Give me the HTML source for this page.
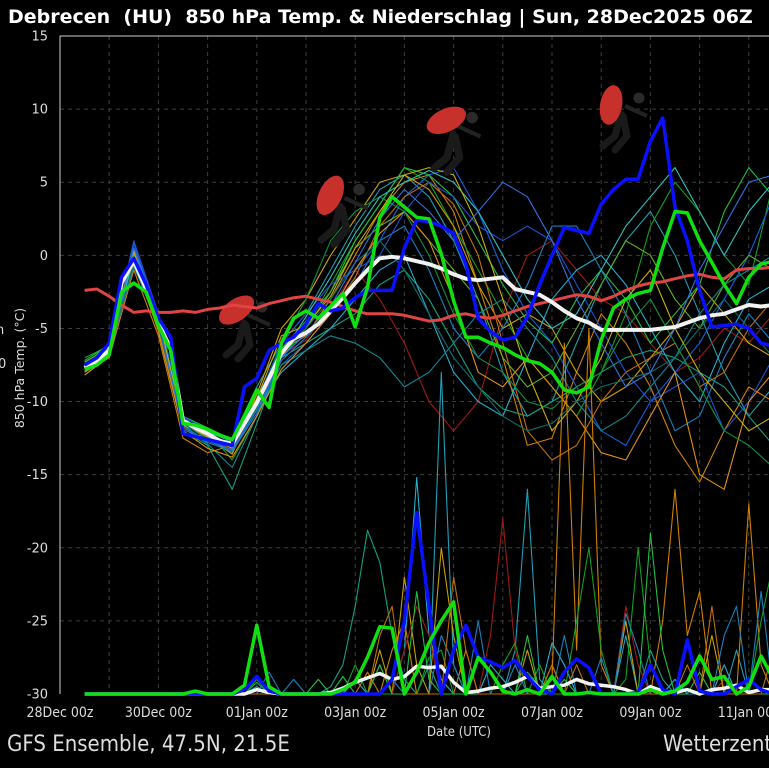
<!DOCTYPE html>
<html><head><meta charset="utf-8">
<style>
html,body{margin:0;padding:0;background:#000;}
body{width:769px;height:768px;overflow:hidden;position:relative;font-family:"DejaVu Sans","Liberation Sans",sans-serif;}
svg{position:absolute;left:0;top:0;}
</style></head>
<body>
<svg id="chart" width="769" height="768" viewBox="0 0 769 768">
  <rect x="0" y="0" width="769" height="768" fill="#000"/>
  <text x="8" y="23" fill="#fff" font-size="19" font-weight="bold" font-family="DejaVu Sans, sans-serif" style="white-space:pre">Debrecen  (HU)  850 hPa Temp. &amp; Niederschlag | Sun, 28Dec2025 06Z</text>
  <g id="grid"></g>
  <g id="yticks"></g>
  <g id="xticks"></g>
  <g id="members"></g>
  <g id="precip"></g>
  <g id="riders"></g>
  <g id="main"></g>
  <line x1="60" y1="36" x2="769" y2="36" stroke="#ccc" stroke-width="1"/>
  <line x1="60" y1="36" x2="60" y2="694" stroke="#ccc" stroke-width="1"/>
  <text transform="translate(24,368) rotate(-90)" text-anchor="middle" fill="#ddd" font-size="12.5" font-family="DejaVu Sans, sans-serif">850 hPa Temp. (°C)</text>
  <text x="-4" y="334" fill="#ddd" font-size="13">n</text>
  <text x="-2" y="368" fill="#ddd" font-size="13">0</text>
  <text x="459" y="736" text-anchor="middle" fill="#ddd" font-size="13" font-family="DejaVu Sans Condensed, DejaVu Sans, sans-serif" style="font-stretch:condensed">Date (UTC)</text>
  <text x="7" y="751" fill="#ddd" font-size="22" font-family="DejaVu Sans Condensed, DejaVu Sans, sans-serif" style="font-stretch:condensed">GFS Ensemble, 47.5N, 21.5E</text>
  <text x="663" y="751" fill="#ddd" font-size="22" font-family="DejaVu Sans Condensed, DejaVu Sans, sans-serif" style="font-stretch:condensed">Wetterzentrale</text>
</svg>
<script>
// ---- data ----
const yTicks = [15,10,5,0,-5,-10,-15,-20,-25,-30];
const xTickLabels = ["28Dec 00z","30Dec 00z","01Jan 00z","03Jan 00z","05Jan 00z","07Jan 00z","09Jan 00z","11Jan 00z"];
const dayCount = 15;
const meanTemp = [-7.7,-7.2,-6.5,-1.9,-0.4,-2.3,-4.6,-6.4,-11.3,-11.8,-12.2,-12.7,-12.9,-11.5,-10.1,-8.4,-6.7,-5.7,-5.3,-4.7,-3.8,-2.9,-1.9,-1.0,-0.2,-0.1,-0.2,-0.4,-0.6,-0.9,-1.3,-1.6,-1.7,-1.6,-1.5,-2.3,-2.5,-2.7,-3.2,-3.8,-4.3,-4.6,-5.1,-5.1,-5.1,-5.1,-5.1,-5.0,-4.9,-4.6,-4.3,-4.1,-4.0,-3.7,-3.4,-3.5,-3.4];
const controlTemp = [-7.5,-7.0,-6.0,-1.5,-0.2,-2.0,-4.3,-5.6,-12.2,-12.4,-12.6,-12.8,-13.0,-9.0,-8.4,-6.5,-6.0,-5.6,-4.7,-3.3,-3.8,-3.6,-2.9,-2.4,-2.4,-2.4,0.5,2.4,2.3,2.0,1.5,-0.6,-4.3,-5.2,-5.8,-5.6,-4.2,-2.0,0.0,1.9,1.7,1.5,3.5,4.5,5.2,5.2,7.8,9.4,3.3,1.0,-2.4,-4.9,-4.8,-4.7,-5.0,-6.0,-6.2];
const operTemp = [-7.8,-7.5,-6.8,-2.5,-1.9,-2.5,-4.8,-6.5,-11.5,-11.6,-11.9,-12.3,-12.6,-11.0,-9.2,-10.4,-6.0,-4.3,-3.8,-4.3,-3.5,-2.6,-4.9,-2.2,2.6,4.0,3.3,2.6,2.5,0.1,-3.1,-5.6,-5.6,-6.0,-6.3,-6.8,-7.2,-7.4,-8.0,-9.2,-9.4,-9.0,-5.8,-3.6,-3.0,-2.6,-2.4,0.5,3.0,2.9,1.0,-0.5,-2.0,-3.3,-1.5,-0.6,-0.4];
const climTemp = [-2.4,-2.3,-2.8,-3.4,-3.9,-3.8,-3.9,-3.9,-3.8,-3.9,-3.7,-3.6,-3.4,-3.5,-3.6,-3.3,-3.1,-2.9,-2.8,-3.0,-3.2,-3.5,-3.8,-4.0,-4.0,-4.0,-4.1,-4.3,-4.5,-4.4,-4.1,-4.0,-4.2,-4.3,-4.1,-3.8,-3.5,-3.3,-3.1,-2.9,-2.7,-2.8,-3.1,-2.8,-2.4,-2.1,-1.9,-1.8,-1.6,-1.4,-1.3,-1.5,-1.6,-1.0,-0.9,-0.9,-0.8];
// precipitation, in axis units above the -30 baseline
const meanPrecip = [0,0,0,0,0,0,0,0,0,0,0,0,0,0,0.3,0.1,0,0,0,0,0.1,0.4,0.8,1.1,1.4,1.0,1.2,1.9,1.8,1.9,0.8,0.1,0.2,0.4,0.5,0.8,1.2,0.4,0.5,0.6,1.0,0.7,0.6,0.5,0.3,0,0.5,0.2,0.1,0.3,0,0.3,0.4,0.6,0.1,0.3,0.3];
const controlPrecip = [0,0,0,0,0,0,0,0,0,0,0,0,0,0.3,1.2,0.2,0,0,0,0,0,0,0,0,0,1.0,5.0,12.4,6.0,0,3.0,4.7,2.5,2.2,1.8,2.3,1.2,0.3,0,1.5,2.4,1.8,0,0,0,0.1,2.0,0.3,0,3.7,0.2,0,0,0.5,1.0,0.3,0];
const operPrecip = [0,0,0,0,0,0,0,0,0,0.2,0,0,0,0.6,4.7,0.5,0,0,0,0,0,0.3,0.8,2.5,4.6,4.5,0,1.5,3.5,5.0,6.3,0,2.5,1.5,0.2,0,0.3,0,1.2,0,0,0.1,0,0,0,0,0.3,0,0.2,0.8,2.6,1.0,1.2,0,0.5,2.6,1.0];
// ensemble members temperature (12-hourly)
const m1 = [-7.5,-6.0,0.5,-4.0,-11.0,-12.0,-12.5,-9.0,-6.0,-4.0,-1.0,2.0,4.5,5.5,4.0,1.0,-3.0,-8.0,-11.0,-10.0,-6.0,-2.0,1.0,3.0,0.0,-4.0,-8.0,-11.0,-9.0];
const m2 = [-8.0,-7.0,-1.0,-5.5,-12.5,-13.5,-13.0,-10.0,-6.5,-5.5,-3.0,0.0,3.0,5.0,5.5,3.0,-2.0,-7.0,-13.0,-12.5,-8.0,-4.0,-6.0,-9.0,-13.0,-15.5,-12.0,-9.0,-10.0];
const m3 = [-7.0,-6.2,-0.8,-4.5,-11.5,-12.0,-14.0,-11.0,-7.0,-5.0,-2.0,1.0,3.5,6.0,5.0,2.0,-1.0,-4.0,-7.0,-9.0,-11.0,-8.0,-4.0,2.0,5.0,3.0,0.0,-2.0,5.0];
const m4 = [-7.6,-6.8,0.8,-4.2,-11.0,-12.5,-13.5,-10.5,-7.5,-6.0,-4.0,-1.0,1.0,4.0,5.5,6.0,3.0,-1.0,-4.0,-6.0,-9.0,-12.0,-13.0,-10.0,-8.0,-6.0,-3.0,0.0,4.0];
const m5 = [-7.8,-6.6,-0.5,-4.8,-12.0,-13.0,-16.0,-11.5,-7.0,-6.0,-5.0,-4.0,-2.0,-1.0,-3.0,-6.0,-9.0,-10.5,-11.0,-10.0,-9.0,-8.0,-7.0,-6.5,-7.0,-8.0,-9.0,-11.0,-13.0];
const m6 = [-7.4,-6.4,-0.6,-5.0,-11.8,-12.6,-13.2,-10.2,-6.8,-5.8,-3.6,-1.0,-3.0,-6.0,-10.0,-12.0,-10.0,-4.0,0.0,1.0,-1.0,-3.0,-4.0,-6.0,-8.0,-7.0,-5.0,-6.0,-4.0];
const m7 = [-8.2,-6.9,0.2,-4.4,-12.2,-12.4,-13.6,-9.5,-5.0,-3.0,0.0,2.5,5.0,5.5,4.5,2.0,-2.0,-5.0,-4.0,-5.0,-8.0,-10.0,-9.0,-7.0,-5.0,-2.0,-4.0,-6.0,-7.0];
const m8 = [-7.6,-6.5,-0.3,-4.6,-11.3,-12.2,-12.9,-10.5,-8.0,-6.5,-5.0,-3.0,-1.0,0.0,-4.0,-8.0,-10.0,-11.0,-7.0,-3.0,-1.0,0.0,-2.0,-5.0,-8.0,-10.0,-6.0,-3.0,-2.0];
const m9 = [-7.2,-6.1,-0.2,-4.0,-11.0,-11.8,-12.6,-9.8,-6.4,-4.5,-2.5,1.0,3.5,6.0,5.5,4.0,1.0,-2.0,-4.5,-6.0,-3.0,-1.0,-3.0,-6.0,-4.0,-2.0,3.0,6.0,4.0];
const m10 = [-7.9,-6.7,-0.7,-4.9,-11.6,-12.8,-13.4,-10.8,-7.2,-5.6,-3.8,-2.0,1.0,2.0,-1.0,-5.0,-7.0,-5.0,-2.0,2.0,2.0,-1.0,-4.0,-8.0,-12.0,-11.0,-7.0,-4.0,-6.0];
const m11 = [-7.7,-6.6,-0.4,-4.7,-11.4,-12.3,-13.0,-10.3,-6.9,-5.4,-3.9,-1.5,2.0,4.0,5.0,3.5,0.0,-6.0,-12.0,-14.0,-13.0,-10.0,-8.0,-7.0,-6.0,-9.0,-8.0,-5.0,-3.0];
const m12 = [-7.3,-6.3,0.0,-4.3,-11.2,-12.0,-12.8,-10.0,-6.5,-5.0,-2.5,0.5,2.0,3.0,1.0,-1.0,-3.0,-7.0,-9.0,-8.0,-5.0,-2.0,1.0,0.0,-3.0,-5.0,-2.0,0.0,-1.0];
const m13 = [-7.6,-6.5,-0.6,-4.6,-11.7,-12.9,-14.5,-11.0,-7.5,-6.5,-5.5,-6.0,-7.0,-9.0,-8.0,-6.0,-4.0,-3.0,-5.0,-7.0,-10.0,-12.0,-11.0,-9.0,-7.0,-4.0,-2.0,-1.0,0.0];
const m14 = [-7.5,-6.6,1.0,-4.0,-11.0,-12.0,-12.8,-10.0,-6.0,-4.0,-2.0,-1.0,0.0,3.0,5.0,4.0,2.0,1.0,2.0,1.0,-2.0,-5.0,-8.0,-10.0,-9.0,-8.0,-12.0,-10.0,-7.0];
const m15 = [-8.0,-6.8,-0.2,-5.2,-12.0,-13.2,-13.8,-11.0,-7.8,-6.0,-4.0,-1.0,1.5,3.0,1.0,-3.0,-8.0,-9.0,-7.0,-9.0,-11.0,-13.5,-14.0,-11.0,-8.0,-15.0,-16.0,-10.0,-8.0];
const m16 = [-7.4,-6.4,-0.5,-4.5,-11.5,-12.5,-13.0,-10.5,-6.0,-3.0,1.0,3.0,4.0,3.0,0.0,-4.0,-7.0,-8.0,-10.0,-10.5,-9.0,-8.0,-5.0,-3.0,-6.0,-9.0,-12.0,-13.0,-14.5];
const m17 = [-7.7,-6.4,-0.1,-4.3,-11.2,-12.1,-12.7,-10.0,-6.8,-4.2,-1.5,1.5,4.0,5.0,5.8,5.0,3.0,0.0,-3.0,-5.0,-4.0,-1.0,2.0,4.0,6.0,3.0,0.0,3.0,5.0];
const m18 = [-7.6,-6.2,0.3,-4.1,-11.6,-12.4,-13.2,-9.8,-5.5,-4.8,-2.8,0.5,3.0,5.5,6.0,5.5,2.0,-3.0,-8.0,-12.0,-10.0,-7.0,-3.0,-1.0,-5.0,-8.0,-10.0,-12.0,-11.0];
const m19 = [-7.5,-6.5,-0.5,-4.7,-11.5,-12.6,-13.3,-10.4,-6.6,-5.0,-3.0,-0.5,1.0,-1.0,-4.0,-7.0,-9.0,-11.0,-12.0,-11.5,-10.0,-9.0,-8.5,-8.0,-7.0,-5.0,-3.0,-5.0,-7.0];
const m20 = [-7.8,-6.9,0.5,-4.4,-11.9,-12.7,-13.3,-10.6,-7.0,-5.3,-3.5,-0.5,2.5,4.5,3.0,1.0,3.0,5.0,4.0,1.0,-3.0,-6.0,-9.0,-8.0,-5.0,-1.0,2.0,5.0,5.5];
const memberColors = ["#1aa0b0","#d08000","#10a020","#1060e0","#10a080","#a01818","#d0a000","#20b0d0","#20c040","#1880c0","#c07000","#60b020","#108890","#2050d0","#e09010","#109040","#30c0c0","#c8b000","#0a7070","#3070e0"];
// ensemble members precipitation (6-hourly, axis units above baseline)
const p1 = [0,0,0,0,0,0,0,0,0,0, 0,0,0,0,0.8,0,0,0,0,0, 0.5,2,6,11.2,9,4,1,0,2,0, 0,0,0,0,0,0,1.5,0.5,0,0, 0,0,0,0,0,0,3,1,0,0, 0,0,0,0,0,0,0];
const p2 = [0,0,0,0,0,0,0,0,0,0, 0,0,0,0,0.5,0,0,0,0,0, 0,0,1,0,2,0,3,14.8,4,1, 0,0,0,2,1,0,0,0,3.5,2, 0,0,0,0,0,0,0,0,1,0, 0,0,2,0,0,0,0];
const p3 = [0,0,0,0,0,0,0,0,0,0, 0,0,0,0,0,0,0,0,0,0, 0,0,0,0,0,0,0,0,0,22, 2,0,0,0,0,3,14,1,0,0, 0,0,0,0,4,0,0,0,0,0, 0,0,0,3,0,0,0];
const p4 = [0,0,0,0,0,0,0,0,0,0, 0,0,0,0,0,0,0,0,0,0, 0,0,0,1.5,0,3,5,0,0,0, 0,3,0,0,0,0,0,0,1,24, 3,25,2,0,0,0,0,5,14,4, 7,0,0,0,13,2,0];
const p5 = [0,0,0,0,0,0,0,0,0,0, 0,0,0,0,0,0,0,0,0,0, 0,0,0,0,3,0,8,2,0,10, 4,0,0,0,0,0,3,0,2,0, 0,0,0,0,5,0,0,0,0,0, 0,4,0,0,0,0,0];
const p6 = [0,0,0,0,0,0,0,0,0,0, 0,0,0,0,0,0,0,0,0,0, 0,0,0,0,0,0,3,6,4,0, 0,0,0,4,12,3,0,0,0,0, 0,0,0,0,6,2,0,0,0,0, 0,0,1,0,0,0,0];
const p7 = [0,0,0,0,0,0,0,0,0,0, 0,0,0,0,1,0,0,0,0,0, 0,0,2,0,0,0,0,0,2.5,3, 0,0,0,0,2,3.5,0,2,0,0, 5,10,3,0,1,10,2,0,0,0, 0,0,0,0,0,5,9];
const p8 = [0,0,0,0,0,0,0,0,0,0, 0,0,0,0,0,1.5,0,1,0,0, 0,0,0,0,0,1,0,0,0,4, 2,0,5,0,0,2,0,0,0,4, 0,0,2.5,0,5.5,3,0,0,0,0, 0,0,4,6,0,7,0];
const p9 = [0,0,0,0,0,0,0,0,0,0, 0,0,0,0,0,0,0,0,0,1, 0,1.2,0,0,2,0,0,7,1,0, 0,0,0,0,0,0,4,0,0,1, 0,0,0,0,0,0,11,3,0,0, 1.5,0,0,0,0,0,0];
const p10 = [0,0,0,0,0,0,0,0,0,0, 0,0,0,0,0,0,0,0,0,0, 0,0,0,0,4,6,0,0,0,0, 8,3,0,0,0,0,0,0,2,0, 2,0,0,0,0,0,0,0,0,2, 0,6,0,0,0,0,3];
const precipColors = ["#10a080","#20b0d0","#20a0b8","#d08000","#c8a000","#a01818","#10a020","#1880c0","#20c040","#c07000"];

// ---- axes ----
const plotLeft = 60, plotTop = 36, plotBottom = 694, plotRight = 769;
const yMin = -30, yMax = 15;
const pxPerDay = 49.2;
function yScale(v){ return plotBottom - (v - yMin) / (yMax - yMin) * (plotBottom - plotTop); }
function xScale(hours){ return plotLeft + hours / 24 * pxPerDay; }
const startHour = 12;
const NS = "http://www.w3.org/2000/svg";
function mk(tag, attrs, parent){ const e = document.createElementNS(NS, tag); for (const k in attrs) e.setAttribute(k, attrs[k]); parent.appendChild(e); return e; }

const grid = document.getElementById('grid');
for (let d = 1; d < dayCount; d++) {
  const gx = xScale(d * 24);
  const l = mk('line', {x1: gx, x2: gx, y1: plotTop, y2: plotBottom, stroke: '#3c3c3c', 'stroke-dasharray': '4,4', 'stroke-width': 1}, grid);
  
  
}
const yt = document.getElementById('yticks');
yTicks.forEach(v => {
  const gy = yScale(v);
  if (v > yMin && v < yMax) {
    const l = mk('line', {x1: plotLeft, x2: plotRight, y1: gy, y2: gy, stroke: '#3c3c3c', 'stroke-dasharray': '4,4', 'stroke-width': 1}, grid);
    
    
  }
  const t = mk('text', {x: 48, y: gy + 4.5, 'text-anchor': 'end', fill: '#ddd', 'font-size': 13}, yt);
  t.textContent = String(v);
  
  
});
const xt = document.getElementById('xticks');
xTickLabels.forEach((lab, i) => {
  const t = mk('text', {x: xScale(i * 48), y: 717, 'text-anchor': 'middle', fill: '#ddd', 'font-size': 14, 'font-family': 'DejaVu Sans Condensed, DejaVu Sans, sans-serif', style: 'font-stretch:condensed'}, xt);
  t.textContent = lab;
  
  
});

function pathFor(vals, stepH, offset){
  return vals.map((v, i) => (i ? 'L' : 'M') + xScale(startHour + i * stepH).toFixed(1) + ' ' + yScale(v + offset).toFixed(1)).join(' ');
}

const members = [m1,m2,m3,m4,m5,m6,m7,m8,m9,m10,m11,m12,m13,m14,m15,m16,m17,m18,m19,m20];
const mg = document.getElementById('members');
members.forEach((m, i) => {
  const p = mk('path', {d: pathFor(m, 12, 0), fill: 'none', stroke: memberColors[i], 'stroke-width': 1.1, 'stroke-linejoin': 'round'}, mg);
  
  
});
const precipMembers = [p1,p2,p3,p4,p5,p6,p7,p8,p9,p10];
const pg = document.getElementById('precip');
precipMembers.forEach((m, i) => {
  const p = mk('path', {d: pathFor(m, 6, yMin), fill: 'none', stroke: precipColors[i], 'stroke-width': 1.1, 'stroke-linejoin': 'round'}, pg);
  
  
});

// rider decorations
const rg = document.getElementById('riders');
[[240,315,-35,1],[336,198,-65,1.05],[449,126,-25,1.05],[617,106,-80,1]].forEach(r => {
  const g = mk('g', {transform: 'translate(' + r[0] + ',' + r[1] + ') scale(' + r[3] + ')'}, rg);
  
  
  mk('path', {d: 'M4 8 L-2 30 L-14 40 M6 10 L10 30 L-2 44', stroke: '#1a1a1a', 'stroke-width': 7, fill: 'none', 'stroke-linecap': 'round'}, g);
  mk('path', {d: 'M8 0 L30 10', stroke: '#222', 'stroke-width': 4, fill: 'none'}, g);
  mk('circle', {cx: 22, cy: -8, r: 5.5, fill: '#2a2a2a'}, g);
  mk('ellipse', {cx: 0, cy: -6, rx: 20, ry: 11, fill: '#c8302c', transform: 'rotate(' + r[2] + ')'}, g);
});

const mainG = document.getElementById('main');
function mainLine(vals, step, offset, color, width){
  return mk('path', {d: pathFor(vals, step, offset), fill: 'none', stroke: color, 'stroke-width': width, 'stroke-linejoin': 'round'}, mainG);
}
let el;
el = mainLine(climTemp, 6, 0, '#e04444', 3);


el = mainLine(meanPrecip, 6, yMin, '#f2f2f2', 3.5);


el = mainLine(controlPrecip, 6, yMin, '#0a10ff', 3.5);


el = mainLine(operPrecip, 6, yMin, '#10e010', 3.5);


el = mainLine(meanTemp, 6, 0, '#f2f2f2', 4);


el = mainLine(controlTemp, 6, 0, '#0a10ff', 3.5);


el = mainLine(operTemp, 6, 0, '#10e010', 3.5);


</script>
</body></html>
